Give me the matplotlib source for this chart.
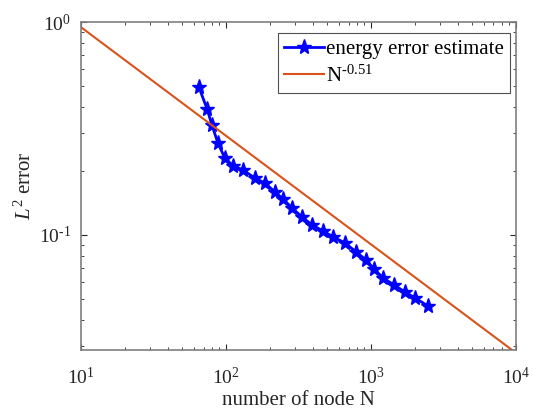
import numpy as np
import matplotlib
matplotlib.use('Agg')
import matplotlib.pyplot as plt

# Data
nodes = [65, 74, 80, 88, 98, 112, 131, 158, 186, 218, 247, 285, 334, 392,
         467, 547, 662, 789, 925, 1050, 1211, 1442, 1714, 2010, 2472]
err_est = [0.495, 0.391, 0.328, 0.270, 0.230, 0.211, 0.202, 0.185, 0.175,
           0.159, 0.1476, 0.134, 0.1215, 0.1114, 0.1044, 0.098, 0.0917,
           0.0832, 0.0763, 0.0692, 0.0628, 0.0582, 0.054, 0.0506, 0.0464]
rate = -0.51
rate_coeff = 3.06
ref_N = [10, 1e4]
x_ticks = [10, 100, 1000, 10000]
x_ticklabels = [r'$\mathdefault{10^{1}}$', r'$\mathdefault{10^{2}}$',
                r'$\mathdefault{10^{3}}$', r'$\mathdefault{10^{4}}$']
y_ticks = [0.1, 1]
y_ticklabels = [r'$\mathdefault{10^{\text{-}1}}$', r'$\mathdefault{10^{0}}$']

plt.rcParams['font.family'] = ['Liberation Serif', 'DejaVu Serif']
plt.rcParams['mathtext.fontset'] = 'custom'
plt.rcParams['mathtext.rm'] = 'Liberation Serif'
plt.rcParams['mathtext.it'] = 'Liberation Serif:italic'
plt.rcParams['axes.unicode_minus'] = False

fig = plt.figure(figsize=(5.33, 4.12), dpi=100)
ax = fig.add_axes([0.152, 0.1505, 0.816, 0.796])

ref_y = [rate_coeff * n ** rate for n in ref_N]
ax.loglog(nodes, err_est, '-*', color='#0000ff', lw=2, ms=11,
          label='energy error estimate')
ax.loglog(ref_N, ref_y, '-', color='#D95319', lw=1.5,
          label=r'N$^{\text{-}0.51}$')

ax.set_xlim(10, 1e4)
ax.set_ylim(0.0288, 1)
ax.set_xticks(x_ticks)
ax.set_xticklabels(x_ticklabels)
ax.set_yticks(y_ticks)
ax.set_yticklabels(y_ticklabels)
ax.set_xlabel('number of node N', fontsize=15, color='#262626', labelpad=2)
ax.set_ylabel(r'$L^2$ error', fontsize=15, color='#262626', labelpad=2)

ax.tick_params(which='both', direction='in', top=True, right=True,
               colors='#262626', labelsize=14)
ax.tick_params(which='major', length=4)
ax.tick_params(which='minor', length=2.5)
ax.tick_params(axis='x', which='major', pad=12)
ax.tick_params(axis='y', which='major', pad=7)
for s in ax.spines.values():
    s.set_color('#7f7f7f')
    s.set_linewidth(1.2)

leg = ax.legend(loc='upper right', bbox_to_anchor=(0.986, 0.966),
                fontsize=15, frameon=True, fancybox=False, borderaxespad=0,
                borderpad=0.3, handlelength=1.9, handletextpad=0.1,
                labelspacing=0.3)
leg.get_frame().set_edgecolor('#262626')
leg.get_frame().set_linewidth(0.8)

fig.savefig('out.png', dpi=100)
